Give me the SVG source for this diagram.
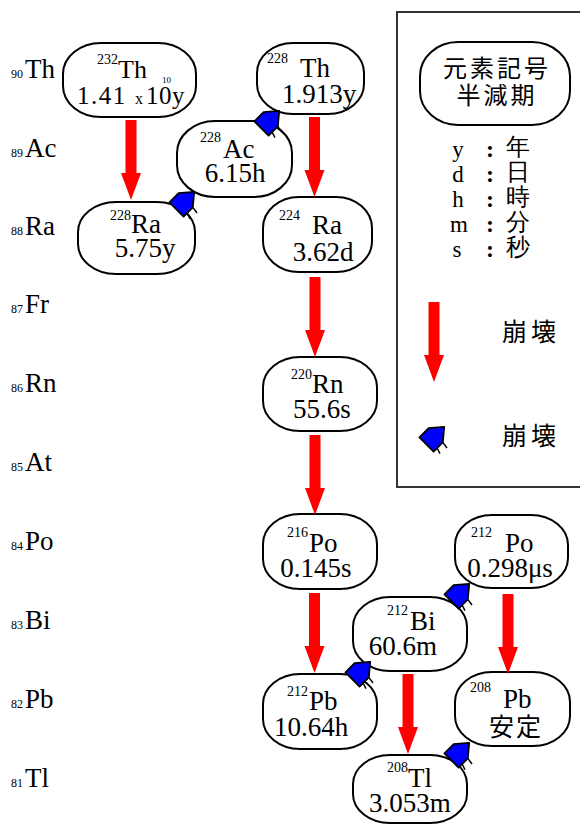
<svg xmlns="http://www.w3.org/2000/svg" xmlns:xlink="http://www.w3.org/1999/xlink" width="580" height="824" viewBox="0 0 580 824">
<style>
.node rect{fill:#fff;stroke:#000;stroke-width:2}
text{font-family:"Liberation Serif","Times New Roman",serif;fill:#000}
.sym{font-size:27px}
.sup{font-size:14px}
.hl{font-size:27px;text-anchor:middle}
.lbl{font-size:27px}
.sub{font-size:12px}
.cjk{font-family:"Noto Sans CJK JP","Noto Sans CJK SC",sans-serif}
.red{fill:#ff0000}
</style>
<defs>
<polygon id="ra" class="red" points="-5.5,0 5.5,0 5.5,53 10,53 0,80 -10,53 -5.5,53"/>
<g id="ba">
<polygon points="-10,12 -10,-1 0,-13 10,-1 10,12" fill="#0000ff" stroke="#000" stroke-width="1.8" stroke-linejoin="round"/>
<path d="M10,-1 L17,0 M10,7 L16,9" stroke="#000" stroke-width="1.5" fill="none"/>
</g>
</defs>

<g id="row-labels">
<text x="11" y="78" class="sub">90</text><text x="25" y="78" class="lbl">Th</text>
<text x="11" y="157" class="sub">89</text><text x="25" y="157" class="lbl">Ac</text>
<text x="11" y="235" class="sub">88</text><text x="25" y="235" class="lbl">Ra</text>
<text x="11" y="313" class="sub">87</text><text x="25" y="313" class="lbl">Fr</text>
<text x="11" y="392" class="sub">86</text><text x="25" y="392" class="lbl">Rn</text>
<text x="11" y="471" class="sub">85</text><text x="25" y="471" class="lbl">At</text>
<text x="11" y="550" class="sub">84</text><text x="25" y="550" class="lbl">Po</text>
<text x="11" y="629" class="sub">83</text><text x="25" y="629" class="lbl">Bi</text>
<text x="11" y="708" class="sub">82</text><text x="25" y="708" class="lbl">Pb</text>
<text x="11" y="787" class="sub">81</text><text x="25" y="787" class="lbl">Tl</text>
</g>

<g id="legend">
<rect x="397" y="12" width="200" height="475" fill="none" stroke="#333" stroke-width="2"/>
<g id="legend-node" class="node">
<rect x="420" y="42" width="150" height="83" rx="38" ry="34"/>
<text x="497" y="77" class="cjk" font-size="24" letter-spacing="3" text-anchor="middle">元素記号</text>
<text x="497" y="104" class="cjk" font-size="24" letter-spacing="3" text-anchor="middle">半減期</text>
</g>
<g font-size="23" text-anchor="middle">
<text x="458" y="157">y</text>
<text x="458" y="182">d</text>
<text x="458" y="207">h</text>
<text x="459" y="232">m</text>
<text x="457" y="257">s</text>
</g>
<g font-size="24" font-weight="bold" text-anchor="middle">
<text x="490" y="157">:</text>
<text x="490" y="182">:</text>
<text x="490" y="207">:</text>
<text x="490" y="232">:</text>
<text x="490" y="257">:</text>
</g>
<g class="cjk" font-size="24" text-anchor="middle">
<text x="518" y="155">年</text>
<text x="518" y="180">日</text>
<text x="518" y="205">時</text>
<text x="518" y="230">分</text>
<text x="518" y="255">秒</text>
</g>
<use xlink:href="#ra" href="#ra" transform="translate(434,302)"/>
<text x="502" y="341" class="cjk" font-size="25" letter-spacing="4">崩壊</text>
<use xlink:href="#ba" href="#ba" transform="translate(435,436) rotate(45)"/>
<text x="502" y="445" class="cjk" font-size="25" letter-spacing="4">崩壊</text>
</g>

<g id="th232" class="node">
<rect x="63" y="43" width="133" height="74" rx="38" ry="31"/>
<text x="97" y="64" class="sup">232</text>
<text x="118" y="78" font-size="26">Th</text>
<text x="77" y="104" font-size="25" letter-spacing="1.5">1.41</text>
<text x="135" y="104" font-size="16">x</text>
<text x="146" y="104" font-size="25">1</text>
<text x="159" y="104" font-size="25">0</text>
<text x="162" y="83" font-size="9">10</text>
<text x="172" y="104" font-size="25">y</text>
</g>

<g id="th228" class="node">
<rect x="257" y="43" width="107" height="71" rx="36" ry="30"/>
<text x="267" y="63" class="sup">228</text>
<text x="300" y="77" class="sym">Th</text>
<text x="319" y="103" class="hl">1.913y</text>
</g>

<g id="ac228" class="node">
<rect x="177" y="121" width="115" height="76" rx="38" ry="32"/>
<text x="200" y="142" class="sup">228</text>
<text x="223" y="158" class="sym">Ac</text>
<text x="235" y="182" class="hl">6.15h</text>
</g>

<g id="ra228" class="node">
<rect x="78" y="202" width="117" height="72" rx="38" ry="30"/>
<text x="110" y="220" class="sup">228</text>
<text x="131" y="233" class="sym">Ra</text>
<text x="145" y="257" class="hl">5.75y</text>
</g>

<g id="ra224" class="node">
<rect x="263" y="197" width="109" height="75" rx="36" ry="31"/>
<text x="279" y="220" class="sup">224</text>
<text x="312" y="234" class="sym">Ra</text>
<text x="323" y="261" class="hl">3.62d</text>
</g>

<g id="rn220" class="node">
<rect x="263" y="357" width="114" height="74" rx="37" ry="30"/>
<text x="291" y="379" class="sup">220</text>
<text x="312" y="393" class="sym">Rn</text>
<text x="322" y="418" class="hl">55.6s</text>
</g>

<g id="po216" class="node">
<rect x="263" y="514" width="114" height="75" rx="37" ry="30"/>
<text x="287" y="537" class="sup">216</text>
<text x="309" y="552" class="sym">Po</text>
<text x="316" y="577" class="hl">0.145s</text>
</g>

<g id="pb212" class="node">
<rect x="263" y="674" width="114" height="75" rx="37" ry="30"/>
<text x="287" y="696" class="sup">212</text>
<text x="309" y="710" class="sym">Pb</text>
<text x="311" y="736" class="hl">10.64h</text>
</g>

<g id="po212" class="node">
<rect x="455" y="515" width="113" height="73" rx="37" ry="30"/>
<text x="471" y="537" class="sup">212</text>
<text x="505" y="552" class="sym">Po</text>
<text x="510" y="577" class="hl">0.298μs</text>
</g>

<g id="bi212" class="node">
<rect x="353" y="597" width="114" height="74" rx="37" ry="30"/>
<text x="387" y="615" class="sup">212</text>
<text x="410" y="630" class="sym">Bi</text>
<text x="403" y="655" class="hl">60.6m</text>
</g>

<g id="pb208" class="node">
<rect x="455" y="672" width="115" height="74" rx="37" ry="30"/>
<text x="470" y="692" class="sup">208</text>
<text x="503" y="708" class="sym">Pb</text>
<text x="516" y="736" class="cjk" font-size="25" letter-spacing="2" text-anchor="middle">安定</text>
</g>

<g id="tl208" class="node">
<rect x="353" y="755" width="114" height="68" rx="37" ry="29"/>
<text x="387" y="772" class="sup">208</text>
<text x="408" y="787" class="sym">Tl</text>
<text x="410" y="812" class="hl">3.053m</text>
</g>

<g id="connectors">
<use xlink:href="#ra" href="#ra" transform="translate(131,120)"/>
<use xlink:href="#ra" href="#ra" transform="translate(314.5,117)"/>
<use xlink:href="#ra" href="#ra" transform="translate(315,277)"/>
<use xlink:href="#ra" href="#ra" transform="translate(315,435)"/>
<use xlink:href="#ra" href="#ra" transform="translate(314.5,593)"/>
<use xlink:href="#ra" href="#ra" transform="translate(408,674)"/>
<use xlink:href="#ra" href="#ra" transform="translate(508,594)"/>
<use xlink:href="#ba" href="#ba" transform="translate(270,120) rotate(45)"/>
<use xlink:href="#ba" href="#ba" transform="translate(185,201) rotate(45)"/>
<use xlink:href="#ba" href="#ba" transform="translate(361,671) rotate(45)"/>
<use xlink:href="#ba" href="#ba" transform="translate(460,593) rotate(45)"/>
<use xlink:href="#ba" href="#ba" transform="translate(460,752) rotate(45)"/>
</g>
</svg>
